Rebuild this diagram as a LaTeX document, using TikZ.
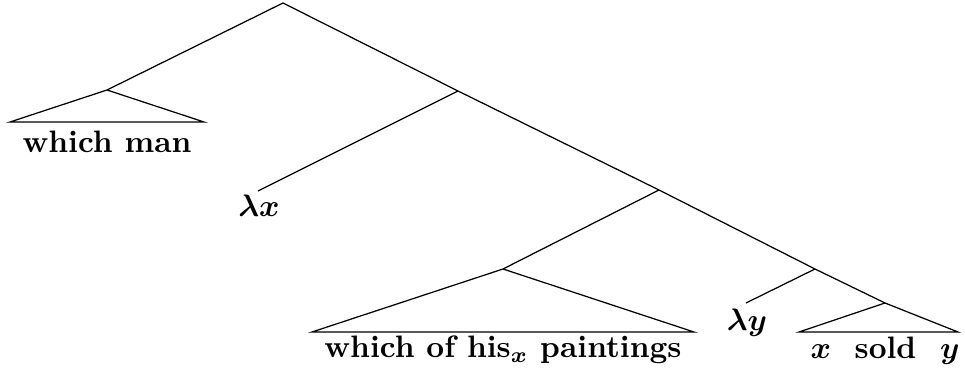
\documentclass[tikz,border=0pt]{standalone}
\begin{document}
\begin{tikzpicture}[x=0.3226pt,y=-0.3226pt,line width=0.4pt,
  lbl/.style={font=\bfseries\boldmath,inner sep=0pt,anchor=base}]
\useasboundingbox (0,0) rectangle (965,374);
% tree points
\coordinate (root) at (283,3);
\coordinate (wm) at (107,90);
\coordinate (wmL) at (10,122);
\coordinate (wmR) at (204,122);
\coordinate (n1) at (458,91);
\coordinate (lx) at (258,191);
\coordinate (n2) at (659,190);
\coordinate (wp) at (503,269);
\coordinate (wpL) at (312,332);
\coordinate (wpR) at (694,332);
\coordinate (n3) at (815,269);
\coordinate (ly) at (746,303);
\coordinate (xs) at (885,303);
\coordinate (xsL) at (799,332);
\coordinate (xsR) at (958,332);
% branches
\draw (wm) -- (root) -- (n1) -- (n2) -- (n3) -- (xs);
\draw (n1) -- (lx);
\draw (n2) -- (wp);
\draw (n3) -- (ly);
\draw (wmL) -- (wm) -- (wmR) -- cycle;
\draw (wpL) -- (wp) -- (wpR) -- cycle;
\draw (xsL) -- (xs) -- (xsR) -- cycle;
% labels
\node[lbl] (t1) at (107,153) {which man};
\node[lbl] (t2) at (259,217) {$\lambda x$};
\node[lbl] (t3) at (503,358) {which of his$_x$ paintings};
\node[lbl] (t4) at (747,331) {$\lambda y$};
\node[lbl] (t5) at (885,359) {$x$\ \ sold\ \ $y$};
\end{tikzpicture}
\end{document}
